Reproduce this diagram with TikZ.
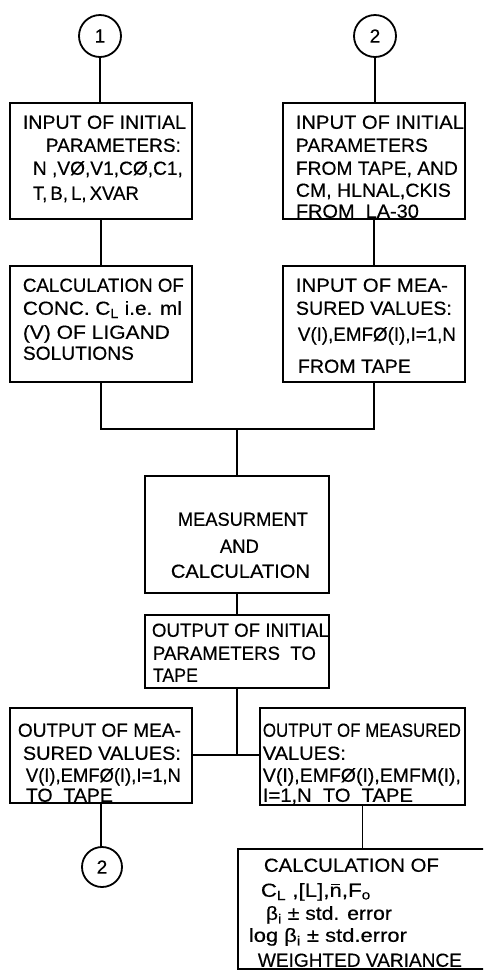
\documentclass[tikz,border=0pt]{standalone}
\usepackage{fontspec}
\setmainfont{Liberation Sans}[FakeBold=0.4]
\usepackage{graphicx}
\newcommand\Ltxt[5]{\node[txt] (#1) at (#2,{-(#3+6.8)}) {\resizebox{#4pt}{\height}{#5}};}
\newcommand\Bx[5]{\node[box, minimum width={#4-#2}, minimum height={#5-#3}] (#1) at ({(#2+#4)/2},{-(#3+#5)/2}) {};}
\newcommand\nbar{n\llap{\rule[11.6pt]{7.6pt}{1.3pt}\hspace{1.4pt}}}
\begin{document}
\begin{tikzpicture}[x=1pt,y=1pt,line width=1.8pt,
  box/.style={draw, rectangle, inner sep=0pt, outer sep=0pt, line width=1.8pt},
  circ/.style={draw, circle, minimum size=42pt, inner sep=0pt, outer sep=0pt, line width=1.8pt, font=\fontsize{19}{23}\selectfont},
  txt/.style={inner sep=0pt, anchor=base west, font=\fontsize{19}{23}\selectfont},
  conn/.style={draw, line width=1.8pt}]
\useasboundingbox (0,0) rectangle (483,-970);
\clip (0,0) rectangle (483,-970);

% circles
\node[circ] (c1) at (100,-36) {1};
\node[circ] (c2) at (375,-36) {2};
\node[circ, minimum size=40pt] (c3) at (102,-867) {2};

% boxes
\Bx{b1}{10}{103}{192}{219}
\Bx{b2}{283}{103}{465}{219}
\Bx{b3}{10}{266}{192}{382}
\Bx{b4}{283}{266}{465}{382}
\Bx{b5}{145}{476}{329}{593}
\Bx{b6}{145}{615}{329}{688}
\Bx{b7}{10}{708}{192}{803}
\Bx{b8}{260}{708}{465}{805}
\Bx{b9}{238}{849}{540}{969}

% texts
\Ltxt{b1a}{22}{122}{163}{INPUT OF INITIAL}
\Ltxt{b1b}{45}{145}{135}{PARAMETERS:}
\Ltxt{b1c}{32}{168}{150}{N ,VØ,V1,CØ,C1,}
\Ltxt{b1d}{32}{193}{106}{T,\,B,\,L,\,XVAR}

\Ltxt{b2a}{295}{122}{168}{INPUT OF INITIAL}
\Ltxt{b2b}{295}{145}{132}{PARAMETERS}
\Ltxt{b2c}{295}{168}{162}{FROM TAPE, AND}
\Ltxt{b2d}{295}{190}{155}{CM, HLNAL,CKIS}
\Ltxt{b2e}{295}{211}{123}{FROM\ \ LA-30}

\Ltxt{b3a}{22}{285}{161}{CALCULATION OF}
\Ltxt{b3b}{22}{308}{159}{CONC. C\textsubscript{L} i.e. ml}
\Ltxt{b3c}{22}{332}{147}{(V) OF LIGAND}
\Ltxt{b3d}{22}{353}{111}{SOLUTIONS}

\Ltxt{b4a}{295}{285}{152}{INPUT OF MEA-}
\Ltxt{b4b}{295}{308}{156}{SURED VALUES:}
\Ltxt{b4c}{297}{334}{158}{V(I),EMFØ(I),I=1,N}
\Ltxt{b4d}{297}{366}{113}{FROM TAPE}

\Ltxt{b5a}{177}{519}{130}{MEASURMENT}
\Ltxt{b5b}{219}{546}{39}{AND}
\Ltxt{b5c}{170}{571}{139}{CALCULATION}

\Ltxt{b6a}{151}{630}{177}{OUTPUT OF INITIAL}
\Ltxt{b6b}{152}{653}{163}{PARAMETERS\ \ TO}
\Ltxt{b6c}{152}{675}{45}{TAPE}

\Ltxt{b7a}{17}{730}{163}{OUTPUT OF MEA-}
\Ltxt{b7b}{22}{753}{158}{SURED VALUES:}
\Ltxt{b7c}{25}{775}{155}{V(I),EMFØ(I),I=1,N}
\Ltxt{b7d}{25}{795}{87}{TO\ \ TAPE}

\Ltxt{b8a}{262}{730}{198}{OUTPUT OF MEASURED}
\Ltxt{b8b}{262}{753}{83}{VALUES:}
\Ltxt{b8c}{262}{775}{198}{V(I),EMFØ(I),EMFM(I),}
\Ltxt{b8d}{262}{795}{150}{I=1,N\ \ TO\ \ TAPE}

\Ltxt{b9a}{263}{865}{175}{CALCULATION OF}
\Ltxt{b9b}{260}{890}{110}{C\textsubscript{L} ,[L],\nbar,F\textsubscript{o}}
\Ltxt{b9c}{265}{913}{126}{β\textsubscript{i} ± std. error}
\Ltxt{b9d}{248}{935}{158}{log β\textsubscript{i} ± std.error}
\Ltxt{b9e}{257}{960}{204}{WEIGHTED VARIANCE}

% junction coordinates
\coordinate (j1) at (237,-429);
\coordinate (j2) at (237,-755);

% connectors
\draw[conn] (c1.south) -- (c1.south |- b1.north);
\draw[conn] (c2.south) -- (c2.south |- b2.north);
\draw[conn] (b1.south) -- (b3.north);
\draw[conn] (b2.south) -- (b4.north);
\draw[conn] (b3.south) -- (b3.south |- j1) -- (b4.south |- j1) -- (b4.south);
\draw[conn] (j1) -- (j1 |- b5.north);
\draw[conn] (b5.south) -- (b6.north);
\draw[conn] (j2 |- b6.south) -- (j2);
\draw[conn] (b7.east |- j2) -- (b8.west |- j2);
\draw[conn] (b7.south) -- (b7.south |- c3.north);
\draw[conn] (b8.south) -- (b8.south |- b9.north);
\end{tikzpicture}
\end{document}
